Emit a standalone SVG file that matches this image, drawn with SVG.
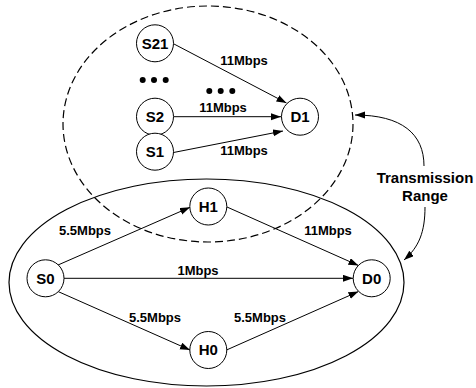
<svg xmlns="http://www.w3.org/2000/svg" width="476" height="388" viewBox="0 0 476 388">
<style>
.bg{fill:#fff}
.range{fill:none;stroke:#000;stroke-width:1.2}
.dash{stroke-dasharray:8 4}
.edge{fill:none;stroke:#000;stroke-width:1}
.node circle{fill:#fff;stroke:#000;stroke-width:1}
.nl{font-family:"Liberation Sans",Arial,sans-serif;font-weight:bold;font-size:15px;text-anchor:middle;fill:#000}
.el{font-family:"Liberation Sans",Arial,sans-serif;font-weight:bold;font-size:13px;text-anchor:middle;fill:#000}
.dot{fill:#000}
</style>
<defs>
<marker id="ah" markerUnits="userSpaceOnUse" markerWidth="11" markerHeight="8" refX="10" refY="3.5" orient="auto">
<path d="M0,0 L10,3.5 L0,7 z" fill="#000"/>
</marker>
</defs>
<rect class="bg" x="0" y="0" width="476" height="388"/>
<g id="ranges">
<ellipse class="range dash" cx="208" cy="124" rx="145" ry="118"/>
<ellipse class="range" cx="206.5" cy="282.5" rx="197.5" ry="103.5"/>
</g>
<g id="connectors">
<line class="edge" x1="174" y1="44" x2="286.5" y2="103" marker-end="url(#ah)"/>
<line class="edge" x1="174" y1="116.7" x2="281" y2="116.7" marker-end="url(#ah)"/>
<line class="edge" x1="173.5" y1="152.5" x2="283" y2="131" marker-end="url(#ah)"/>
<line class="edge" x1="58" y1="265" x2="190" y2="207.3" marker-end="url(#ah)"/>
<line class="edge" x1="227" y1="207" x2="358.5" y2="265.5" marker-end="url(#ah)"/>
<line class="edge" x1="64" y1="278.3" x2="353" y2="278.3" marker-end="url(#ah)"/>
<line class="edge" x1="58" y1="291.5" x2="190" y2="350" marker-end="url(#ah)"/>
<line class="edge" x1="226.5" y1="350" x2="358.5" y2="291.5" marker-end="url(#ah)"/>
<path class="edge" d="M424 166 C424 134 402 115 355 115" marker-end="url(#ah)"/>
<path class="edge" d="M425 207 C425 232 419 247 404 260" marker-end="url(#ah)"/>
</g>
<g id="edge-labels">
<text class="el" x="244" y="65">11Mbps</text>
<text class="el" x="223" y="112">11Mbps</text>
<text class="el" x="244" y="155">11Mbps</text>
<text class="el" x="85" y="235">5.5Mbps</text>
<text class="el" x="328" y="235">11Mbps</text>
<text class="el" x="198" y="275">1Mbps</text>
<text class="el" x="155" y="322">5.5Mbps</text>
<text class="el" x="260" y="322">5.5Mbps</text>
</g>
<g id="range-label">
<text class="nl" x="425" y="183">Transmission</text>
<text class="nl" x="425" y="201">Range</text>
</g>
<g id="dots">
<circle class="dot" cx="142.7" cy="80" r="3"/>
<circle class="dot" cx="154" cy="80" r="3"/>
<circle class="dot" cx="165.7" cy="80" r="3"/>
<circle class="dot" cx="209.3" cy="91" r="3"/>
<circle class="dot" cx="220.7" cy="91" r="3"/>
<circle class="dot" cx="232.3" cy="91" r="3"/>
</g>
<g id="S21" class="node"><circle cx="155" cy="43.3" r="18.5"/><text class="nl" x="155" y="48.7">S21</text></g>
<g id="S2" class="node"><circle cx="155" cy="116.7" r="18.5"/><text class="nl" x="155" y="122.1">S2</text></g>
<g id="S1" class="node"><circle cx="155" cy="151.7" r="18.5"/><text class="nl" x="155" y="157.1">S1</text></g>
<g id="D1" class="node"><circle cx="300" cy="116.7" r="18.5"/><text class="nl" x="300" y="122.1">D1</text></g>
<g id="S0" class="node"><circle cx="45.5" cy="278.3" r="18.5"/><text class="nl" x="45.5" y="283.7">S0</text></g>
<g id="H1" class="node"><circle cx="208.3" cy="206.5" r="18.5"/><text class="nl" x="208.3" y="211.9">H1</text></g>
<g id="H0" class="node"><circle cx="208.3" cy="350" r="18.5"/><text class="nl" x="208.3" y="355.4">H0</text></g>
<g id="D0" class="node"><circle cx="371.7" cy="278.3" r="18.5"/><text class="nl" x="371.7" y="283.7">D0</text></g>
</svg>
